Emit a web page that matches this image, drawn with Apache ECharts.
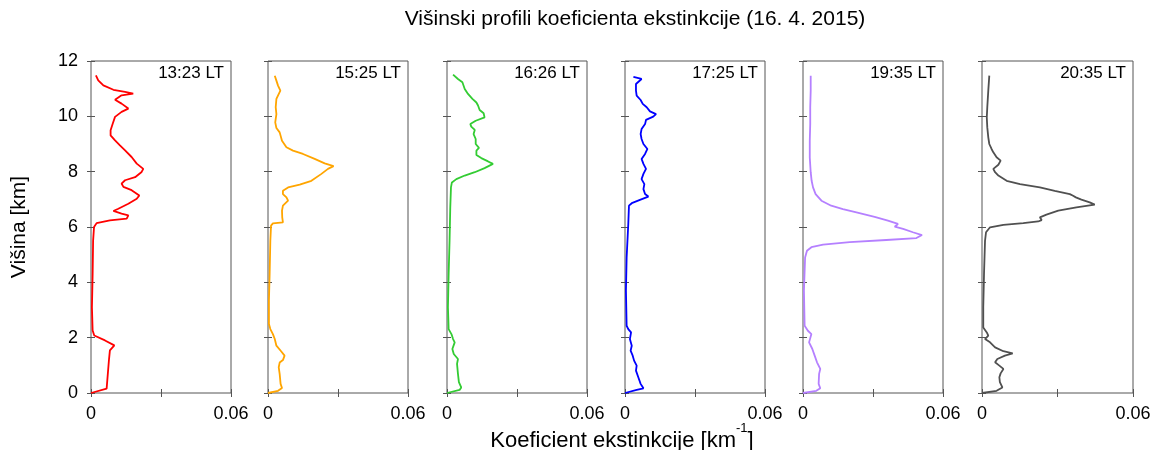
<!DOCTYPE html>
<html>
<head>
<meta charset="utf-8">
<script src="https://cdn.jsdelivr.net/npm/echarts@6/dist/echarts.min.js"></script>
<style>
    html, body { margin: 0; padding: 0; background: #fff; }
    #chart { width: 1154px; height: 450px; }
</style>
</head>
<body>
<div id="chart"></div>
<script>
// profile times (panel labels)
var times = ['13:23 LT', '15:25 LT', '16:26 LT', '17:25 LT', '19:35 LT', '20:35 LT'];
var colors = ['#ff0000', '#ffa500', '#33cc33', '#0000ff', '#b580ff', '#505050'];

// [extinction km^-1, height km]
var prof1323 = [[0, 0], [0.0067, 0.16], [0.0070, 0.2], [0.0077, 1.2], [0.0081, 1.54], [0.0100, 1.72], [0.0060, 1.9], [0.0014, 2.08], [0.0007, 2.26], [0.0004, 3.1], [0.0007, 4.3], [0.0009, 5.5], [0.0013, 6.0], [0.0024, 6.14], [0.0081, 6.24], [0.0153, 6.3], [0.0160, 6.42], [0.0131, 6.48], [0.0096, 6.58], [0.0117, 6.66], [0.0160, 6.84], [0.0196, 7.02], [0.0207, 7.14], [0.0174, 7.33], [0.0139, 7.45], [0.0131, 7.57], [0.0146, 7.69], [0.0189, 7.8], [0.0217, 7.99], [0.0224, 8.1], [0.0196, 8.29], [0.0174, 8.53], [0.0146, 8.77], [0.0124, 8.95], [0.0103, 9.13], [0.0084, 9.31], [0.0084, 9.5], [0.0093, 9.73], [0.0103, 9.98], [0.0131, 10.16], [0.0160, 10.28], [0.0131, 10.46], [0.0103, 10.6], [0.0099, 10.67], [0.0131, 10.76], [0.0181, 10.82], [0.0146, 10.88], [0.0096, 10.96], [0.0053, 11.12], [0.0031, 11.3], [0.0021, 11.48]];

var prof1525 = [[0, 0], [0.0043, 0.08], [0.0060, 0.18], [0.0054, 0.33], [0.0050, 0.69], [0.0046, 0.93], [0.0050, 1.1], [0.0064, 1.19], [0.0071, 1.35], [0.0057, 1.5], [0.0036, 1.71], [0.0029, 1.95], [0.0021, 2.13], [0.0010, 2.31], [0.0004, 2.49], [0.0004, 3.34], [0.0007, 4.3], [0.0010, 5.5], [0.0013, 6.05], [0.0021, 6.13], [0.0064, 6.17], [0.0061, 6.35], [0.0060, 6.59], [0.0064, 6.77], [0.0086, 6.95], [0.0079, 7.07], [0.0064, 7.19], [0.0064, 7.31], [0.0086, 7.43], [0.0136, 7.53], [0.0186, 7.67], [0.0229, 7.92], [0.0257, 8.1], [0.0281, 8.2], [0.0243, 8.3], [0.0200, 8.46], [0.0150, 8.64], [0.0107, 8.76], [0.0079, 8.88], [0.0060, 9.12], [0.0050, 9.42], [0.0036, 9.58], [0.0031, 9.78], [0.0036, 10.08], [0.0033, 10.33], [0.0036, 10.63], [0.0053, 10.93], [0.0043, 11.11], [0.0036, 11.29], [0.0029, 11.47]];

var prof1626 = [[0, 0], [0.0054, 0.11], [0.0061, 0.2], [0.0051, 0.39], [0.0047, 0.69], [0.0043, 1.05], [0.0047, 1.23], [0.0029, 1.41], [0.0023, 1.59], [0.0033, 1.83], [0.0026, 1.95], [0.0019, 2.13], [0.0007, 2.31], [0.0004, 3.1], [0.0007, 4.3], [0.0011, 5.5], [0.0014, 6.71], [0.0017, 7.43], [0.0021, 7.61], [0.0040, 7.73], [0.0076, 7.86], [0.0119, 7.98], [0.0161, 8.13], [0.0197, 8.28], [0.0176, 8.37], [0.0147, 8.49], [0.0126, 8.6], [0.0126, 8.76], [0.0137, 8.86], [0.0123, 9.0], [0.0123, 9.18], [0.0114, 9.36], [0.0119, 9.51], [0.0104, 9.63], [0.0100, 9.72], [0.0123, 9.84], [0.0161, 9.96], [0.0157, 10.11], [0.0140, 10.23], [0.0133, 10.39], [0.0126, 10.5], [0.0109, 10.63], [0.0090, 10.81], [0.0076, 10.99], [0.0066, 11.23], [0.0047, 11.35], [0.0026, 11.51]];

var prof1725 = [[0, 0], [0.0050, 0.11], [0.0079, 0.17], [0.0067, 0.33], [0.0057, 0.57], [0.0047, 0.81], [0.0050, 0.99], [0.0039, 1.17], [0.0033, 1.35], [0.0024, 1.53], [0.0029, 1.71], [0.0021, 1.95], [0.0026, 2.19], [0.0014, 2.31], [0.0007, 2.43], [0.0004, 3.7], [0.0007, 4.9], [0.0014, 6.1], [0.0017, 6.77], [0.0029, 6.86], [0.0064, 6.98], [0.0100, 7.1], [0.0086, 7.19], [0.0079, 7.37], [0.0083, 7.55], [0.0071, 7.73], [0.0079, 7.92], [0.0090, 8.1], [0.0079, 8.28], [0.0071, 8.46], [0.0086, 8.64], [0.0096, 8.82], [0.0079, 9.0], [0.0071, 9.18], [0.0067, 9.36], [0.0071, 9.54], [0.0086, 9.72], [0.0090, 9.87], [0.0121, 9.99], [0.0133, 10.08], [0.0107, 10.18], [0.0093, 10.33], [0.0076, 10.45], [0.0067, 10.59], [0.0050, 10.75], [0.0047, 10.93], [0.0047, 11.17], [0.0071, 11.35], [0.0036, 11.43]];

var prof1935 = [[0, 0], [0.0057, 0.08], [0.0074, 0.17], [0.0067, 0.33], [0.0069, 0.69], [0.0074, 0.87], [0.0060, 1.11], [0.0050, 1.35], [0.0040, 1.59], [0.0026, 1.83], [0.0036, 2.13], [0.0021, 2.25], [0.0007, 2.43], [0.0004, 3.7], [0.0009, 4.9], [0.0017, 5.14], [0.0036, 5.27], [0.0086, 5.36], [0.0200, 5.45], [0.0357, 5.53], [0.0486, 5.6], [0.0510, 5.71], [0.0471, 5.81], [0.0429, 5.93], [0.0393, 6.01], [0.0407, 6.11], [0.0364, 6.23], [0.0307, 6.37], [0.0229, 6.53], [0.0171, 6.65], [0.0121, 6.77], [0.0079, 6.95], [0.0054, 7.19], [0.0043, 7.43], [0.0037, 7.67], [0.0033, 7.98], [0.0029, 8.51], [0.0029, 9.12], [0.0031, 9.72], [0.0031, 10.33], [0.0033, 10.93], [0.0033, 11.47]];

var prof2035 = [[0, 0], [0.0058, 0.08], [0.0081, 0.2], [0.0071, 0.39], [0.0069, 0.57], [0.0074, 0.71], [0.0085, 0.87], [0.0069, 0.99], [0.0052, 1.11], [0.0061, 1.23], [0.0091, 1.35], [0.0122, 1.43], [0.0085, 1.51], [0.0052, 1.65], [0.0032, 1.83], [0.0012, 1.95], [0.0025, 2.07], [0.0019, 2.19], [0.0005, 2.37], [0.0005, 3.1], [0.0008, 4.3], [0.0012, 5.5], [0.0016, 5.81], [0.0032, 5.99], [0.0085, 6.08], [0.0164, 6.14], [0.0223, 6.2], [0.0237, 6.25], [0.0230, 6.35], [0.0256, 6.45], [0.0303, 6.59], [0.0375, 6.71], [0.0448, 6.81], [0.0428, 6.89], [0.0395, 6.99], [0.0373, 7.07], [0.0362, 7.13], [0.0349, 7.19], [0.0289, 7.31], [0.0230, 7.43], [0.0151, 7.55], [0.0098, 7.67], [0.0065, 7.86], [0.0052, 7.98], [0.0045, 8.1], [0.0065, 8.25], [0.0074, 8.4], [0.0058, 8.52], [0.0045, 8.7], [0.0038, 8.82], [0.0029, 9.0], [0.0025, 9.24], [0.0021, 9.6], [0.0019, 9.96], [0.0021, 10.33], [0.0025, 10.93], [0.0029, 11.47]];

var profiles = [prof1323, prof1525, prof1626, prof1725, prof1935, prof2035];

// panel layout (px)
var panelLeft = [91, 268, 447, 625, 803, 982];
var panelWidth = [140, 140, 140, 140, 140, 151];
var panelTop = 61;
var panelHeight = 332;

var frameColor = '#555';
var fontFamily = '"Liberation Sans", Arial, Helvetica, sans-serif';

var grids = [], xAxes = [], yAxes = [], series = [], graphics = [];

profiles.forEach(function (data, i) {
    grids.push({
        left: panelLeft[i],
        top: panelTop,
        width: panelWidth[i],
        height: panelHeight,
        show: true,
        borderColor: frameColor,
        borderWidth: 1,
        backgroundColor: 'transparent'
    });
    // bottom + top x axes
    ['bottom', 'top'].forEach(function (pos) {
        xAxes.push({
            type: 'value',
            gridIndex: i,
            position: pos,
            min: 0,
            max: 0.06,
            interval: 0.03,
            axisLine: { show: false },
            axisTick: { show: true, inside: true, length: 4, lineStyle: { color: frameColor } },
            splitLine: { show: false },
            axisLabel: {
                show: pos === 'bottom',
                margin: 12,
                fontSize: 18,
                color: '#000',
                fontFamily: fontFamily,
                showMinLabel: true,
                showMaxLabel: true,
                formatter: function (v) {
                    if (v === 0) return '0';
                    if (Math.abs(v - 0.06) < 1e-9) return '0.06';
                    return '';
                }
            }
        });
    });
    // left + right y axes
    ['left', 'right'].forEach(function (pos) {
        yAxes.push({
            type: 'value',
            gridIndex: i,
            position: pos,
            min: 0,
            max: 12,
            interval: 2,
            axisLine: { show: false },
            axisTick: { show: true, inside: true, length: 4, lineStyle: { color: frameColor } },
            splitLine: { show: false },
            axisLabel: {
                show: i === 0 && pos === 'left',
                margin: 13,
                fontSize: 18,
                color: '#000',
                fontFamily: fontFamily
            }
        });
    });
    series.push({
        name: times[i],
        type: 'line',
        xAxisIndex: 2 * i,
        yAxisIndex: 2 * i,
        showSymbol: false,
        symbol: 'none',
        lineStyle: { color: colors[i], width: 1.8 },
        data: data
    });
    graphics.push({
        type: 'text',
        x: panelLeft[i] + panelWidth[i] - 7,
        y: 73,
        style: {
            text: times[i],
            fill: '#000',
            font: '17px ' + fontFamily,
            textAlign: 'right',
            textVerticalAlign: 'middle'
        }
    });
});

// axis names
graphics.push({
    type: 'text',
    x: 19,
    y: 227,
    rotation: Math.PI / 2,
    style: {
        text: 'Višina [km]',
        fill: '#000',
        font: '21px ' + fontFamily,
        textAlign: 'center',
        textVerticalAlign: 'middle'
    }
});
graphics.push({
    type: 'text',
    x: 622,
    y: 437,
    style: {
        text: '{base|Koeficient ekstinkcije [km}{sup|-1}{base|]}',
        fill: '#000',
        textAlign: 'center',
        textVerticalAlign: 'middle',
        rich: {
            base: {
                fontSize: 22,
                fontFamily: fontFamily,
                lineHeight: 30,
                verticalAlign: 'bottom',
                fill: '#000'
            },
            sup: {
                fontSize: 13,
                fontFamily: fontFamily,
                lineHeight: 14,
                verticalAlign: 'top',
                fill: '#000'
            }
        }
    }
});

var chart = echarts.init(document.getElementById('chart'));
chart.setOption({
    animation: false,
    backgroundColor: '#fff',
    title: {
        text: 'Višinski profili koeficienta ekstinkcije (16. 4. 2015)',
        left: 630,
        top: 4,
        textAlign: 'center',
        textStyle: { fontSize: 21, fontWeight: 'normal', color: '#000', fontFamily: fontFamily }
    },
    grid: grids,
    xAxis: xAxes,
    yAxis: yAxes,
    series: series,
    graphic: graphics
});
</script>
</body>
</html>
